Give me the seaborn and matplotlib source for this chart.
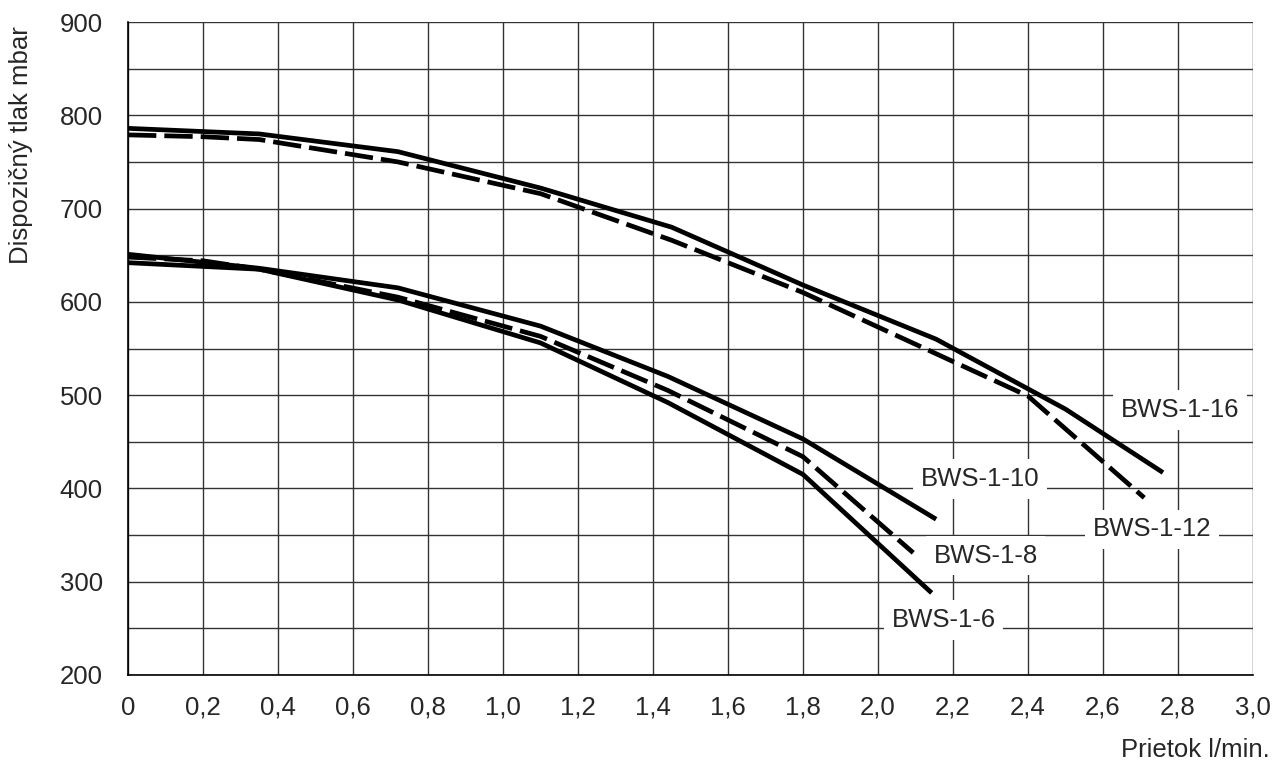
import matplotlib
matplotlib.use("Agg")
import matplotlib.pyplot as plt
import seaborn as sns
import pandas as pd

# Flow rate (l/min) vs. available pressure (mbar) for each pump variant
x_16 = [0.0, 0.35, 0.72, 1.10, 1.45, 1.80, 2.155, 2.50, 2.76]
p_16 = [786, 780, 761, 722, 680, 618, 560, 485, 417]

x_12 = [0.0, 0.20, 0.35, 0.72, 1.10, 1.45, 1.80, 2.13, 2.40, 2.71]
p_12 = [779, 777, 774, 750, 716, 666, 610, 549, 499, 390]

x_10 = [0.0, 0.35, 0.72, 1.10, 1.44, 1.80, 2.155]
p_10 = [651, 636, 615, 574, 520, 453, 367]

x_8 = [0.0, 0.20, 0.35, 0.72, 1.10, 1.44, 1.80, 2.094]
p_8 = [648, 644, 635, 605, 563, 505, 434, 331]

x_6 = [0.0, 0.35, 0.72, 1.10, 1.44, 1.80, 2.143]
p_6 = [642, 635, 602, 556, 492, 415, 288]

series_names = ["BWS-1-16", "BWS-1-12", "BWS-1-10", "BWS-1-8", "BWS-1-6"]
series_dashed = [False, True, False, True, False]

# Label anchor points (data coordinates)
label_x = [2.805, 2.731, 2.273, 2.287, 2.175]
label_y = [484, 356, 410, 328, 259]

x_ticks = [0.0, 0.2, 0.4, 0.6, 0.8, 1.0, 1.2, 1.4, 1.6, 1.8, 2.0, 2.2, 2.4, 2.6, 2.8, 3.0]
x_tick_labels = ["0", "0,2", "0,4", "0,6", "0,8", "1,0", "1,2", "1,4", "1,6",
                 "1,8", "2,0", "2,2", "2,4", "2,6", "2,8", "3,0"]
y_major = [200, 300, 400, 500, 600, 700, 800, 900]
y_minor = [250, 350, 450, 550, 650, 750, 850]

sns.set_style("white")
plt.rcParams["font.family"] = ["Liberation Sans", "DejaVu Sans"]

fig = plt.figure(figsize=(12.74, 7.64), dpi=100)
ax = fig.add_axes([128 / 1274, 1 - 675 / 764, (1253 - 128) / 1274, (675 - 22) / 764])

xs = [x_16, x_12, x_10, x_8, x_6]
ps = [p_16, p_12, p_10, p_8, p_6]
for name, xv, pv, dashed in zip(series_names, xs, ps, series_dashed):
    df = pd.DataFrame({"flow": xv, "pressure": pv})
    line_ax = sns.lineplot(data=df, x="flow", y="pressure", ax=ax, color="black",
                           linewidth=3.4, sort=False, zorder=4)
    ln = line_ax.get_lines()[-1]
    ln.set_solid_capstyle("butt")
    if dashed:
        ln.set_dashes([6.0, 1.7])
        ln.set_dash_capstyle("butt")

for name, lx, ly in zip(series_names, label_x, label_y):
    ax.text(lx, ly, name, fontsize=18.5, ha="center", va="center", zorder=3,
            bbox=dict(boxstyle="square,pad=0.3", facecolor="white", edgecolor="none"))

ax.set_xlim(0, 3.0)
ax.set_ylim(200, 900)
ax.set_xticks(x_ticks)
ax.set_xticklabels(x_tick_labels)
ax.set_yticks(y_major)
ax.set_yticks(y_minor, minor=True)
ax.tick_params(axis="both", which="both", direction="out", color="black", width=1.0)
ax.tick_params(axis="x", length=9, pad=6, labelsize=18.5)
ax.tick_params(axis="y", which="major", length=6, pad=12, labelsize=18.5)
ax.tick_params(axis="y", which="minor", length=6)
ax.grid(True, which="both", color="#333333", linewidth=1.0, zorder=1)
ax.set_axisbelow(True)
for side in ["top", "right"]:
    ax.spines[side].set_visible(False)
for side in ["left", "bottom"]:
    ax.spines[side].set_color("black")
    ax.spines[side].set_linewidth(1.2)
ax.set_xlabel("")
ax.set_ylabel("")

fig.text(21 / 1274, 1 - 26 / 764, "Dispozičný tlak mbar", rotation=90,
         ha="center", va="top", fontsize=18.5)
fig.text(1270 / 1274, 1 - 750 / 764, "Prietok l/min.", ha="right", va="center",
         fontsize=18.5)

fig.savefig("out.png", dpi=100, facecolor="white")
